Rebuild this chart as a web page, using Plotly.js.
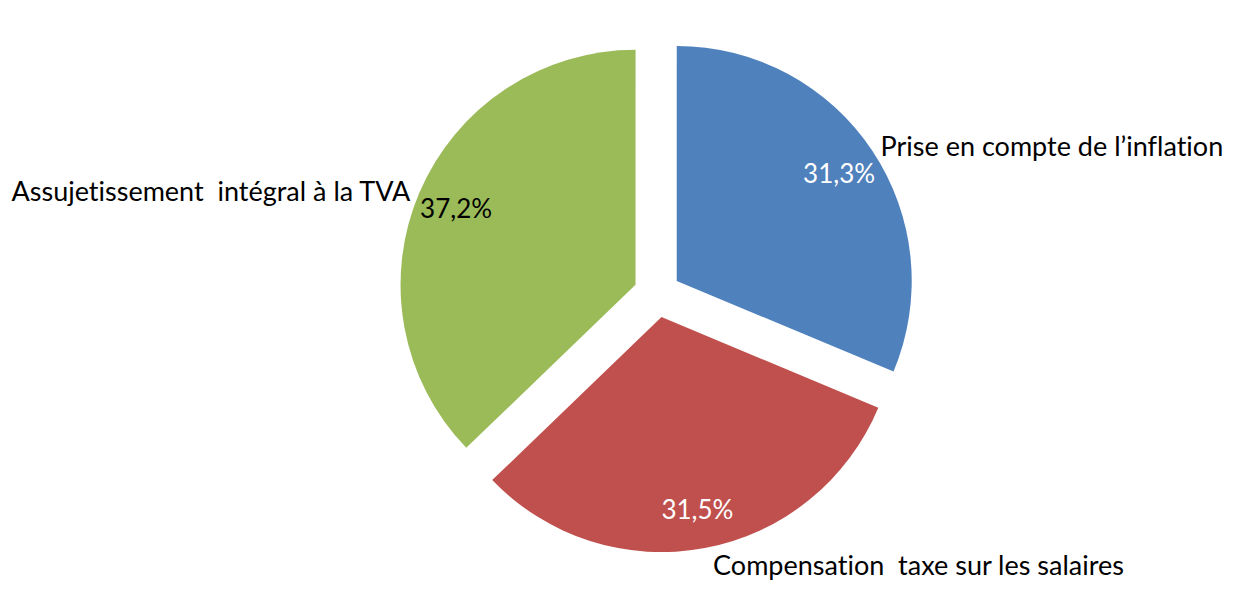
<!DOCTYPE html>
<html>
<head>
<meta charset="utf-8">
<script src="https://cdn.plot.ly/plotly-3.0.1.min.js"></script>
<style>html,body{margin:0;padding:0;background:#fff;}#chart{width:1247px;height:606px;}svg text{font-variant-ligatures:none;font-feature-settings:"liga" 0,"clig" 0;}</style>
</head>
<body>
<div id="chart"></div>
<script>
var categories = ["Prise en compte de l\u2019inflation", "Compensation  taxe sur les salaires", "Assujetissement  int\u00e9gral \u00e0 la TVA"];
var values = [31.3, 31.5, 37.2];
var sliceColors = ["#4F81BD", "#C0504D", "#9BBB59"];
var percentColors = ["#FFFFFF", "#FFFFFF", "#000000"];

var FONT = "Lato, 'Open Sans', sans-serif";
var dom = {x: [0.227, 0.827], y: [0.0883, 0.9414]};

var pieTrace = {
  type: "pie",
  labels: categories,
  values: values,
  sort: false,
  direction: "clockwise",
  rotation: 0,
  pull: 0.1,
  domain: dom,
  marker: {colors: sliceColors, line: {width: 0}},
  textinfo: "label",
  textposition: "outside",
  outsidetextfont: {family: FONT, size: 27, color: "#000"},
  automargin: false,
  hoverinfo: "skip",
  showlegend: false
};

var pctTrace = {
  type: "pie",
  labels: categories,
  values: values,
  sort: false,
  direction: "clockwise",
  rotation: 0,
  pull: 0.1,
  hole: 0.66,
  domain: dom,
  marker: {colors: ["rgba(0,0,0,0)", "rgba(0,0,0,0)", "rgba(0,0,0,0)"], line: {width: 0}},
  texttemplate: "%{percent:.1%}",
  textposition: "inside",
  insidetextorientation: "horizontal",
  insidetextfont: {family: FONT, size: 26, color: percentColors},
  automargin: false,
  hoverinfo: "skip",
  showlegend: false
};

var layout = {
  width: 1247,
  height: 606,
  margin: {l: 0, r: 0, t: 0, b: 0},
  paper_bgcolor: "#FFFFFF",
  plot_bgcolor: "#FFFFFF",
  separators: ", ",
  showlegend: false,
  font: {family: FONT}
};

Plotly.newPlot("chart", [pieTrace, pctTrace], layout, {displayModeBar: false, staticPlot: true});
</script>
</body>
</html>
